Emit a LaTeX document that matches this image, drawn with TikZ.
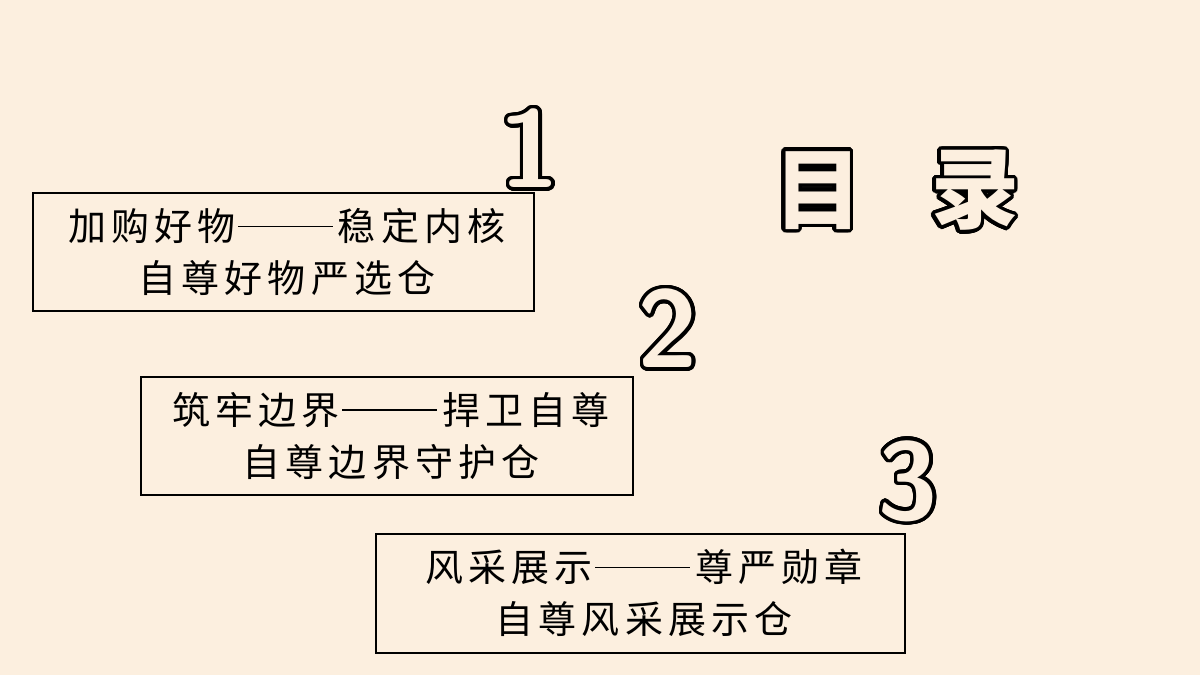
\documentclass[tikz,border=0pt]{standalone}
\usepackage{fontspec}
\usepackage{contour}
\newfontfamily\cjk[LetterSpace=14]{Noto Sans CJK SC}
\definecolor{bg}{HTML}{FCEFDF}
\contournumber{32}
\newcommand{\outl}[2]{\contourlength{#1}\contour{black}{\textcolor{bg}{#2}}}
\newcommand{\dashline}{\hspace{2pt}\raisebox{0.36em}{\rule{95pt}{1.3pt}}\hspace{5pt}}
\begin{document}
\begin{tikzpicture}[x=1pt,y=-1pt]
\tikzset{box/.style={draw=black,line width=2.5pt},
 lbl/.style={font=\cjk\fontsize{38}{52}\selectfont,align=center,text=black},
 big/.style={font=\fontfamily{lmss}\bfseries\fontsize{110}{110}\selectfont},
 ttl/.style={font=\cjk\bfseries\fontsize{88}{88}\selectfont}}
\fill[bg] (0,0) rectangle (1200,675);
\useasboundingbox (0,0) rectangle (1200,675);
\node[big] (n1) at (530,150) {\outl{3.5pt}{1}};
\node[big] (n2) at (668,330) {\outl{3.5pt}{2}};
\node[big] (n3) at (908,483) {\outl{3.5pt}{3}};
\node[ttl] (t1) at (818,192) {\outl{3.5pt}{目}};
\node[ttl] (t2) at (975,192) {\outl{3.5pt}{录}};
\draw[box,fill=bg] (33,193) rectangle (534,311);
\draw[box,fill=bg] (141,377) rectangle (633,495);
\draw[box,fill=bg] (376,534) rectangle (905,653);
\node[lbl] (b1) at (287,252) {加购好物\dashline 稳定内核\\自尊好物严选仓};
\node[lbl] (b2) at (391,436) {筑牢边界\dashline 捍卫自尊\\自尊边界守护仓};
\node[lbl] (b3) at (644,593) {风采展示\dashline 尊严勋章\\自尊风采展示仓};
\end{tikzpicture}
\end{document}
